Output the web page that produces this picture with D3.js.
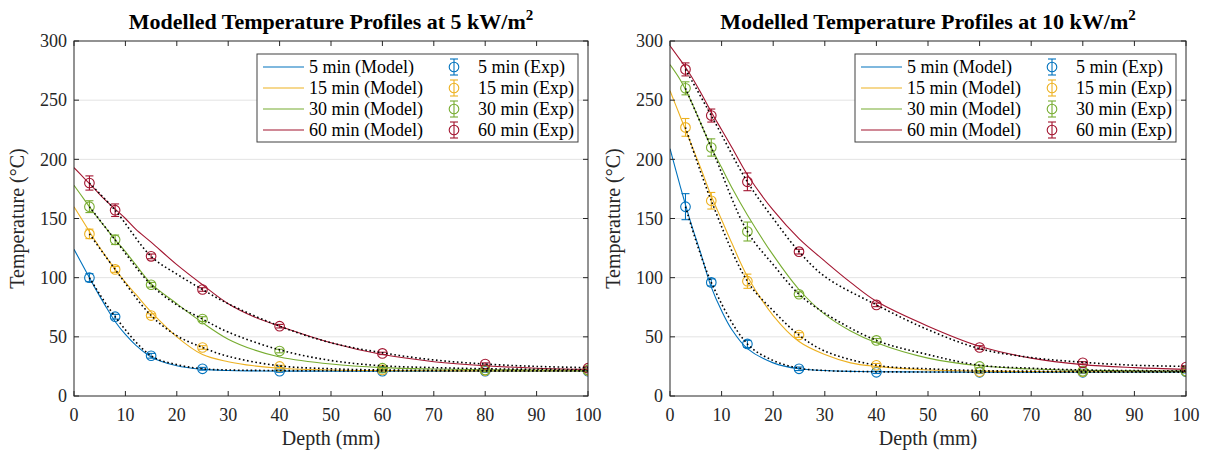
<!DOCTYPE html>
<html>
<head>
<meta charset="utf-8">
<script src="https://cdn.jsdelivr.net/npm/d3@7"></script>
<style>
  html, body { margin: 0; padding: 0; background: #fff; }
  svg, svg text { font-family: "Liberation Serif", "Times New Roman", Times, "DejaVu Serif", serif; }
</style>
</head>
<body>
<svg id="chart" width="1209" height="454"></svg>
<script>
// ---------------- DATA ----------------
const seriesNames = ["5 min", "15 min", "30 min", "60 min"];
const seriesColors = ["#0072BD", "#EDB120", "#77AC30", "#A2142F"];
const xTicks = [0, 10, 20, 30, 40, 50, 60, 70, 80, 90, 100];
const yTicks = [0, 50, 100, 150, 200, 250, 300];

// experimental depths (mm)
const expDepth = [3, 8, 15, 25, 40, 60, 80, 100];
// model curve sampling depths
const modelDepth = [0, 2, 4, 6, 8, 10, 12, 15, 20, 25, 30, 35, 40, 50, 60, 70, 80, 90, 100];
// dotted fit sampling depths
const fitDepth = [3, 8, 15, 20, 25, 30, 40, 50, 60, 70, 80, 90, 100];

// ---- 5 kW/m2 panel ----
const exp5Mean = [
  [100, 67, 34, 23, 21, 21, 21, 21],
  [137, 107, 68, 41, 25, 22, 21.5, 21.5],
  [160, 132, 94, 65, 38, 23.5, 22, 22],
  [180, 157, 118, 90, 59, 36, 27, 23.5]
];
const exp5Err = [
  [3.4, 2, 2, 1.2, 1, 1, 1, 1],
  [4, 2.5, 1.5, 1.5, 1, 1, 1, 1],
  [5, 4, 2, 2, 1.5, 1, 1, 1],
  [6, 5.3, 2, 1.5, 1.5, 1, 1, 1]
];
const model5 = [
  [124, 108, 92, 77, 63, 52, 43, 33, 25.5, 22.5, 21.5, 21.2, 21, 21, 21, 21, 21, 21, 21],
  [160, 146, 132, 119, 107, 96, 86, 71, 50, 35, 29, 25.5, 23.5, 22, 21.5, 21.3, 21.2, 21.2, 21.2],
  [178, 166, 154, 143, 132, 122, 111, 95, 78, 62, 48, 39, 33, 27, 24, 22.8, 22.2, 22, 21.8],
  [193, 184, 175, 166, 158, 150, 141, 130, 111, 94, 78, 67, 59, 45, 35, 29, 25.5, 23.5, 22.5]
];
const fit5 = [
  [100, 67, 34, 26.5, 23, 22, 21.5, 21.3, 21.2, 21.2, 21.2, 21.2, 21.2],
  [137, 107, 68, 51, 41, 33.5, 25.5, 23, 22, 21.7, 21.5, 21.4, 21.3],
  [160, 132, 94, 77, 65, 54, 39, 30, 25.5, 24, 23, 22.6, 22.3],
  [180, 157, 118, 103, 90, 78, 59, 45, 36.5, 30.5, 27, 25, 24]
];

// ---- 10 kW/m2 panel ----
const exp10Mean = [
  [160, 96, 44, 23, 20, 20, 20, 20.5],
  [227, 165, 97, 51.5, 26, 20.5, 20.5, 21],
  [260, 210, 139, 86, 47, 25, 21, 21],
  [276, 237, 181, 122, 77, 41, 28, 24.5]
];
const exp10Err = [
  [11, 3, 3, 1.5, 1, 1, 1, 1],
  [7.5, 7, 6, 2, 1.5, 1, 1, 1],
  [5.5, 7.3, 8, 2, 1.5, 1, 1, 1],
  [5.5, 5.5, 7.5, 2, 1.5, 1.5, 1, 1]
];
const model10 = [
  [209, 177, 147, 120, 92, 72, 56, 40, 28, 23, 21.5, 20.8, 20.5, 20.3, 20.2, 20.2, 20.2, 20.2, 20.2],
  [258, 236, 214, 192, 169, 149, 129, 101, 68, 46, 35, 28, 25, 22, 21, 20.7, 20.5, 20.5, 20.5],
  [280, 267, 250, 230, 210, 193, 176, 153, 119, 90, 69, 55, 45, 32, 25.5, 22.8, 21.7, 21.2, 21],
  [296, 284, 271, 256, 240, 225, 210, 187, 157, 133, 114, 96, 80, 59, 42, 32, 26.5, 24, 22.5]
];
const fit10 = [
  [160, 96, 44, 30, 23.5, 21.5, 20.5, 20.3, 20.2, 20.2, 20.2, 20.2, 20.2],
  [227, 165, 97, 72, 51.5, 38, 26, 23, 21.5, 21, 20.8, 20.7, 20.6],
  [260, 210, 139, 111, 86, 70, 47, 35, 26, 23.5, 22, 21.5, 21.2],
  [276, 237, 181, 150, 122, 101, 77, 56, 40, 32.5, 28.5, 26, 25]
];

const panels = [
  { title: "Modelled Temperature Profiles at 5 kW/m", left: 74, right: 588, mean: exp5Mean, err: exp5Err, model: model5, fit: fit5 },
  { title: "Modelled Temperature Profiles at 10 kW/m", left: 670, right: 1186, mean: exp10Mean, err: exp10Err, model: model10, fit: fit10 }
];

// ---------------- DRAW ----------------
const FONT = '"Liberation Serif", "Times New Roman", Times, "DejaVu Serif", serif';
const svg = d3.select("#chart").attr("font-family", FONT);
const plotTop = 41, plotBottom = 396;
const axisColor = "#262626";

panels.forEach((p, pi) => {
  const x = d3.scaleLinear().domain([0, 100]).range([p.left, p.right]);
  const y = d3.scaleLinear().domain([0, 300]).range([plotBottom, plotTop]);
  const g = svg.append("g").attr("font-family", FONT);

  const clipId = "clip" + pi;
  svg.append("clipPath").attr("id", clipId)
    .append("rect").attr("x", p.left).attr("y", plotTop)
    .attr("width", p.right - p.left).attr("height", plotBottom - plotTop);

  // grid
  g.append("g").selectAll("line").data(yTicks.filter(t => t > 0 && t < 300)).join("line")
    .attr("x1", p.left).attr("x2", p.right)
    .attr("y1", d => y(d)).attr("y2", d => y(d))
    .attr("stroke", "#e3e3e3").attr("stroke-width", 1);

  const plot = g.append("g").attr("clip-path", `url(#${clipId})`);

  // model lines
  const modelLine = d3.line().x((d, i) => x(modelDepth[i])).y(d => y(d)).curve(d3.curveCatmullRom.alpha(0.5));
  p.model.forEach((vals, si) => {
    plot.append("path").attr("d", modelLine(vals))
      .attr("fill", "none").attr("stroke", seriesColors[si]).attr("stroke-width", 1.1);
  });

  // error bars + markers
  p.mean.forEach((vals, si) => {
    const eg = plot.append("g").attr("stroke", seriesColors[si]).attr("fill", "none").attr("stroke-width", 1.1);
    vals.forEach((v, i) => {
      const cx = x(expDepth[i]);
      const e = p.err[si][i];
      const y1 = y(v - e), y2 = y(v + e);
      eg.append("line").attr("x1", cx).attr("x2", cx).attr("y1", y1).attr("y2", y2);
      eg.append("line").attr("x1", cx - 4).attr("x2", cx + 4).attr("y1", y1).attr("y2", y1);
      eg.append("line").attr("x1", cx - 4).attr("x2", cx + 4).attr("y1", y2).attr("y2", y2);
      eg.append("circle").attr("cx", cx).attr("cy", y(v)).attr("r", 4.8);
    });
  });

  // dotted fit lines
  const fitLine = d3.line().x((d, i) => x(fitDepth[i])).y(d => y(d)).curve(d3.curveCatmullRom.alpha(0.5));
  p.fit.forEach(vals => {
    plot.append("path").attr("d", fitLine(vals))
      .attr("fill", "none").attr("stroke", "#000").attr("stroke-width", 1.6)
      .attr("stroke-dasharray", "1.6,2.6");
  });

  // axes box
  g.append("rect").attr("x", p.left).attr("y", plotTop)
    .attr("width", p.right - p.left).attr("height", plotBottom - plotTop)
    .attr("fill", "none").attr("stroke", axisColor).attr("stroke-width", 1);

  // ticks (inward, all sides)
  const tl = 5;
  const tg = g.append("g").attr("stroke", axisColor).attr("stroke-width", 1);
  xTicks.forEach(t => {
    tg.append("line").attr("x1", x(t)).attr("x2", x(t)).attr("y1", plotBottom).attr("y2", plotBottom - tl);
    tg.append("line").attr("x1", x(t)).attr("x2", x(t)).attr("y1", plotTop).attr("y2", plotTop + tl);
  });
  yTicks.forEach(t => {
    tg.append("line").attr("x1", p.left).attr("x2", p.left + tl).attr("y1", y(t)).attr("y2", y(t));
    tg.append("line").attr("x1", p.right).attr("x2", p.right - tl).attr("y1", y(t)).attr("y2", y(t));
  });

  // tick labels
  g.append("g").selectAll("text").data(xTicks).join("text")
    .attr("font-family", FONT)
    .attr("x", d => x(d)).attr("y", plotBottom + 25)
    .attr("text-anchor", "middle").attr("font-size", 18).attr("fill", axisColor)
    .text(d => d);
  g.append("g").selectAll("text").data(yTicks).join("text")
    .attr("font-family", FONT)
    .attr("x", p.left - 7).attr("y", d => y(d)).attr("dy", "0.35em")
    .attr("text-anchor", "end").attr("font-size", 18).attr("fill", axisColor)
    .text(d => d);

  // axis labels
  g.append("text").attr("font-family", FONT).attr("x", (p.left + p.right) / 2).attr("y", 445)
    .attr("text-anchor", "middle").attr("font-size", 20).attr("fill", axisColor)
    .text("Depth (mm)");
  g.append("text").attr("font-family", FONT)
    .attr("transform", `translate(${p.left - 50},${(plotTop + plotBottom) / 2}) rotate(-90)`)
    .attr("text-anchor", "middle").attr("font-size", 20).attr("fill", axisColor)
    .text("Temperature (°C)");

  // title
  const tt = g.append("text").attr("font-family", FONT).attr("x", (p.left + p.right) / 2).attr("y", 29)
    .attr("text-anchor", "middle").attr("font-size", 22).attr("font-weight", "bold").attr("fill", "#000");
  tt.append("tspan").text(p.title);
  tt.append("tspan").attr("dy", -9).attr("font-size", 15).text("2");

  // legend
  const lw = 321, lh = 88;
  const lx = p.right - 10 - lw, ly = 54;
  const lg = g.append("g");
  lg.append("rect").attr("x", lx).attr("y", ly).attr("width", lw).attr("height", lh)
    .attr("fill", "#fff").attr("stroke", "#404040").attr("stroke-width", 1);
  const rowY = i => ly + 13 + i * 21;
  seriesNames.forEach((name, i) => {
    const ry = rowY(i);
    lg.append("line").attr("x1", lx + 6).attr("x2", lx + 47).attr("y1", ry).attr("y2", ry)
      .attr("stroke", seriesColors[i]).attr("stroke-width", 1.1);
    lg.append("text").attr("font-family", FONT).attr("x", lx + 52).attr("y", ry).attr("dy", "0.35em")
      .attr("font-size", 18).attr("fill", "#000").text(name + " (Model)");
    const mx = lx + 197;
    const mg = lg.append("g").attr("stroke", seriesColors[i]).attr("fill", "none").attr("stroke-width", 1.1);
    mg.append("line").attr("x1", mx).attr("x2", mx).attr("y1", ry - 8).attr("y2", ry + 8);
    mg.append("line").attr("x1", mx - 4).attr("x2", mx + 4).attr("y1", ry - 8).attr("y2", ry - 8);
    mg.append("line").attr("x1", mx - 4).attr("x2", mx + 4).attr("y1", ry + 8).attr("y2", ry + 8);
    mg.append("circle").attr("cx", mx).attr("cy", ry).attr("r", 4.8);
    lg.append("text").attr("font-family", FONT).attr("x", lx + 221).attr("y", ry).attr("dy", "0.35em")
      .attr("font-size", 18).attr("fill", "#000").text(name + " (Exp)");
  });
});
</script>
</body>
</html>
